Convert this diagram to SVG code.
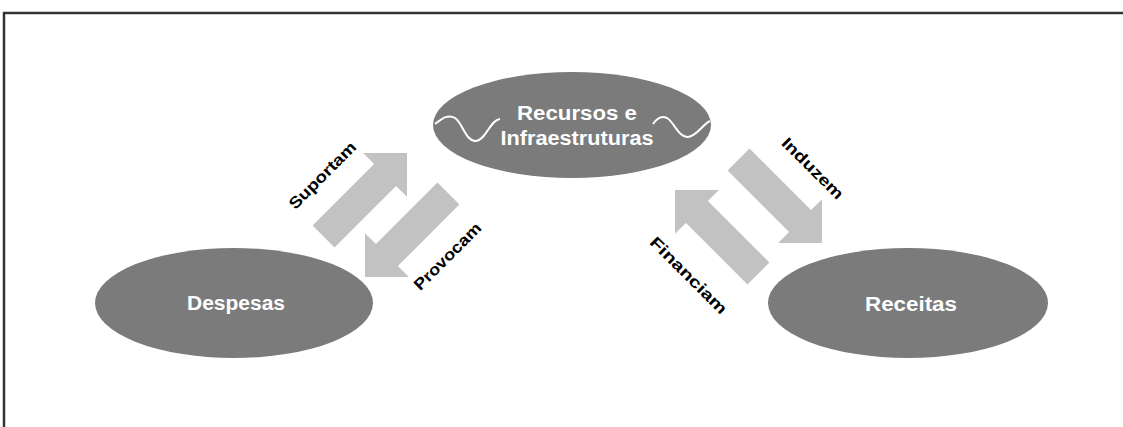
<svg xmlns="http://www.w3.org/2000/svg" width="1123" height="427" viewBox="0 0 1123 427">
<defs>
<style>
.node{fill:#7b7b7b}
.nt{font-family:"Liberation Sans",Arial,sans-serif;fill:#ffffff;font-weight:bold;text-anchor:middle}
.arrow{fill:#c2c2c2}
.lbl{font-family:"Liberation Sans",Arial,sans-serif;fill:#000;font-weight:bold;font-size:16px;text-anchor:middle}
</style>
<path id="arr" d="M0,0 L-31,-31 L-31,-15.5 L-118,-15.5 L-118,15.5 L-31,15.5 L-31,31 Z"/>
</defs>
<rect x="0" y="0" width="1123" height="427" fill="#ffffff"/>
<g id="frame" fill="none">
<path d="M4,427 V13 H1123" stroke="#999" stroke-width="3"/>
<path d="M4,427 V13 H1123" stroke="#111" stroke-width="1.5"/>
</g>
<g id="connectors">
<use href="#arr" class="arrow" transform="translate(407,153) rotate(-45)"/>
<use href="#arr" class="arrow" transform="translate(365,277) rotate(135)"/>
<use href="#arr" class="arrow" transform="translate(822,243) rotate(45)"/>
<use href="#arr" class="arrow" transform="translate(675,190) rotate(225)"/>
<text class="lbl" transform="translate(322,175) rotate(-45)" y="6" textLength="88" lengthAdjust="spacingAndGlyphs">Suportam</text>
<text class="lbl" transform="translate(447,256) rotate(-45)" y="6" textLength="88" lengthAdjust="spacingAndGlyphs">Provocam</text>
<text class="lbl" transform="translate(813,168) rotate(45)" y="6" textLength="80" lengthAdjust="spacingAndGlyphs">Induzem</text>
<text class="lbl" transform="translate(689,275) rotate(45)" y="6" textLength="102" lengthAdjust="spacingAndGlyphs">Financiam</text>
</g>
<g id="node-recursos">
<ellipse class="node" cx="572" cy="125" rx="139" ry="53"/>
<path d="M435,124 C443,118 448,114 455,118 C462,122 466,142 476,141 C486,140 490,120 500,119" fill="none" stroke="#fff" stroke-width="2"/>
<path d="M653,124 C657,118 661,115 667,118 C674,122 679,138 688,137 C697,136 703,124 710,121" fill="none" stroke="#fff" stroke-width="2"/>
<text class="nt" x="577" y="120" font-size="20" textLength="120" lengthAdjust="spacingAndGlyphs">Recursos e</text>
<text class="nt" x="577" y="145" font-size="20" textLength="153" lengthAdjust="spacingAndGlyphs">Infraestruturas</text>
</g>
<g id="node-despesas">
<ellipse class="node" cx="234" cy="303" rx="139" ry="55"/>
<text class="nt" x="236" y="310" font-size="20" textLength="98" lengthAdjust="spacingAndGlyphs">Despesas</text>
</g>
<g id="node-receitas">
<ellipse class="node" cx="908" cy="303" rx="140" ry="55"/>
<text class="nt" x="911" y="311" font-size="20" textLength="92" lengthAdjust="spacingAndGlyphs">Receitas</text>
</g>
</svg>
